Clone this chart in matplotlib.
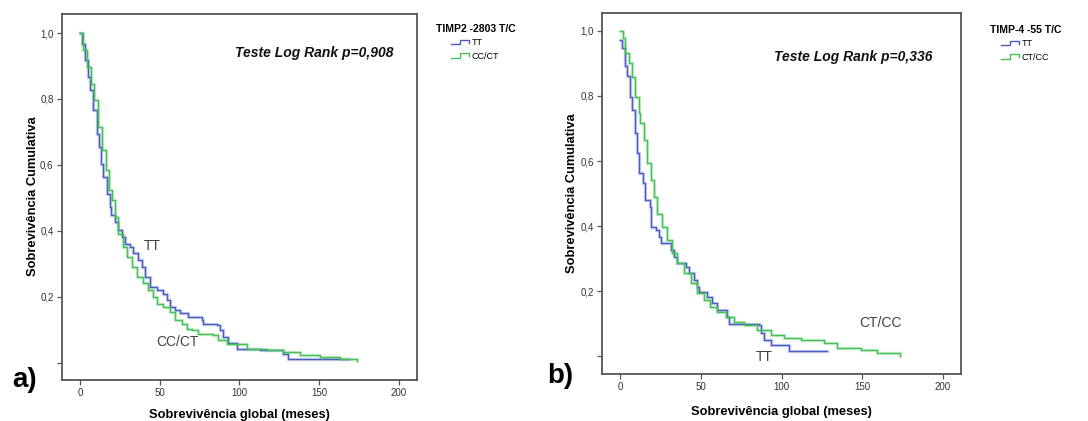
import numpy as np
import matplotlib
matplotlib.use("Agg")
import matplotlib.pyplot as plt
from matplotlib.lines import Line2D
from matplotlib.legend_handler import HandlerBase

plt.rcParams['font.family'] = ['Liberation Sans', 'DejaVu Sans']

# ---------------- data ----------------
# Panel a: TIMP2 -2803 T/C
a_tt_t = [0, 1.0, 3.1, 4.8, 6.3, 8.4, 10.5, 11.9, 13.2, 14.6, 16.7, 18.8, 19.4, 21.9, 24.0,
          26.1, 28.2, 31.3, 33.4, 36.6, 38.7, 40.8, 43.9, 48.1, 52.2, 54.3, 56.4, 59.6,
          62.7, 67.9, 76.3, 77.3, 85.7, 87.8, 89.9, 93.0, 98.2, 112.9, 127.5, 130.6, 168.9]
a_tt_s = [1.0, 0.968, 0.917, 0.866, 0.826, 0.766, 0.695, 0.654, 0.604, 0.563, 0.513, 0.472,
          0.447, 0.427, 0.402, 0.381, 0.361, 0.351, 0.331, 0.310, 0.290, 0.260, 0.230, 0.219,
          0.209, 0.189, 0.169, 0.159, 0.149, 0.139, 0.128, 0.118, 0.113, 0.098, 0.078, 0.058,
          0.042, 0.037, 0.027, 0.012, 0.012]
a_cc_t = [0, 2.1, 4.6, 6.7, 9.0, 11.5, 13.6, 16.3, 18.4, 19.9, 21.9, 24.0, 27.2, 29.3, 32.4,
          35.5, 39.7, 42.8, 46.0, 48.1, 52.2, 56.4, 59.6, 63.7, 66.9, 70.0, 74.2, 83.6, 86.7,
          92.0, 104.5, 117.0, 127.5, 137.9, 150.5, 163.0, 173.5]
a_cc_s = [1.0, 0.948, 0.897, 0.847, 0.796, 0.715, 0.644, 0.584, 0.523, 0.493, 0.442, 0.391,
          0.351, 0.321, 0.290, 0.260, 0.240, 0.219, 0.199, 0.179, 0.169, 0.154, 0.128, 0.118,
          0.103, 0.098, 0.088, 0.083, 0.068, 0.056, 0.042, 0.037, 0.032, 0.022, 0.017, 0.012,
          0.005]

# Panel b: TIMP-4 -55 T/C
b_tt_t = [0, 1.0, 2.7, 4.1, 5.8, 7.3, 8.7, 10.4, 11.8, 13.9, 15.5, 18.2, 19.1, 21.8, 23.8,
          24.9, 31.1, 33.2, 35.2, 40.4, 42.5, 45.6, 47.7, 48.7, 53.9, 57.0, 60.1, 66.3, 67.4,
          86.0, 87.0, 89.1, 93.3, 104.7, 128.5]
b_tt_s = [0.972, 0.948, 0.891, 0.860, 0.798, 0.757, 0.685, 0.624, 0.562, 0.532, 0.480, 0.460,
          0.398, 0.388, 0.368, 0.347, 0.327, 0.306, 0.286, 0.276, 0.255, 0.235, 0.214, 0.199,
          0.183, 0.163, 0.142, 0.122, 0.101, 0.096, 0.071, 0.050, 0.035, 0.017, 0.017]
b_cc_t = [0, 1.7, 3.1, 5.2, 7.3, 9.3, 11.4, 12.4, 14.5, 16.6, 18.7, 20.7, 22.8, 25.9, 29.0,
          32.1, 35.2, 39.4, 43.5, 47.7, 51.8, 55.9, 60.1, 65.3, 70.5, 76.7, 85.0, 93.3, 101.6,
          112.1, 126.4, 134.7, 149.2, 159.6, 173.7]
b_cc_s = [1.0, 0.977, 0.931, 0.900, 0.859, 0.798, 0.747, 0.716, 0.665, 0.593, 0.542, 0.491,
          0.439, 0.398, 0.357, 0.317, 0.286, 0.255, 0.224, 0.194, 0.173, 0.153, 0.137, 0.122,
          0.107, 0.096, 0.081, 0.066, 0.058, 0.050, 0.040, 0.025, 0.019, 0.011, 0.002]

y_ticks = [0.0, 0.2, 0.4, 0.6, 0.8, 1.0]
y_ticklabels = ['', '0,2', '0,4', '0,6', '0,8', '1,0']
x_ticks = [0, 50, 100, 150, 200]
x_ticklabels = ['0', '50', '100', '150', '200']

BLUE = '#4a5cc0'
GREEN = '#45c157'
FRAME = '#555555'
TXT = '#333333'


class StepIcon(HandlerBase):
    def create_artists(self, legend, orig_handle, xdescent, ydescent, width, height,
                       fontsize, trans):
        fx = np.array([0.0, 0.5, 0.5, 1.0, 1.0])
        fy = np.array([0.1, 0.1, 0.85, 0.85, 0.4])
        ln = Line2D(fx * width - xdescent, fy * height - ydescent,
                    color=orig_handle.get_color(), lw=1.0, transform=trans)
        return [ln]


fig = plt.figure(figsize=(10.88, 4.21), dpi=100)
W, H = 1088, 421


def setup_panel(rect, ylim, ylab_xy, xlab_xy):
    ax = fig.add_axes(rect)
    ax.set_xlim(-11.3, 211.3)
    ax.set_ylim(*ylim)
    ax.set_xticks(x_ticks)
    ax.set_xticklabels(x_ticklabels)
    ax.set_yticks(y_ticks)
    ax.set_yticklabels(y_ticklabels)
    for sp in ax.spines.values():
        sp.set_color(FRAME)
        sp.set_linewidth(1.3)
    ax.tick_params(axis='both', direction='out', length=3.6, width=0.9, color=FRAME,
                   labelsize=7, labelcolor=TXT, pad=2.5)
    ax.set_ylabel('Sobrevivência Cumulativa', fontsize=9.3, fontweight='bold', va='center')
    ax.yaxis.set_label_coords(*ylab_xy)
    ax.set_xlabel('Sobrevivência global (meses)', fontsize=9.3, fontweight='bold', va='center')
    ax.xaxis.set_label_coords(*xlab_xy)
    return ax


def km(ax, t, s, color):
    ax.step(t, s, where='post', color=color, lw=2.4, alpha=0.25, solid_joinstyle='miter')
    ax.step(t, s, where='post', color=color, lw=1.0)


# ---------------- panel a ----------------
axa = setup_panel([62 / W, 1 - 380 / H, 355 / W, 366 / H], (-0.053, 1.058),
                  (-0.082, 0.501), (0.501, -0.0956))
km(axa, a_tt_t, a_tt_s, BLUE)
km(axa, a_cc_t, a_cc_s, GREEN)
axa.text(0.935, 0.893, 'Teste Log Rank p=0,908', transform=axa.transAxes, ha='right',
         va='center', fontsize=10, fontweight='bold', fontstyle='italic', color='#111111')
axa.text(45, 0.354, 'TT', ha='center', va='center', fontsize=10, color='#404040')
axa.text(60.8, 0.0625, 'CC/CT', ha='center', va='center', fontsize=10, color='#404040')
fig.text(12 / W, 1 - 387 / H, 'a)', fontsize=20, fontweight='bold', ha='left', va='baseline')
hA = [Line2D([], [], color=BLUE), Line2D([], [], color=GREEN)]
fig.legend(hA, ['TT', 'CC/CT'], handler_map={Line2D: StepIcon()},
           title='TIMP2 -2803 T/C', title_fontproperties={'weight': 'bold', 'size': 7.5},
           fontsize=6.5, frameon=False, handlelength=2.0, handletextpad=0.3, borderpad=0,
           labelspacing=0.5, loc='upper left', bbox_to_anchor=(431 / W, 1 - 19 / H),
           bbox_transform=fig.transFigure)

# ---------------- panel b ----------------
axb = setup_panel([602.3 / W, 1 - 374 / H, 358.4 / W, 360.7 / H], (-0.054, 1.054),
                  (-0.0845, 0.502), (0.4986, -0.105))
km(axb, b_tt_t, b_tt_s, BLUE)
km(axb, b_cc_t, b_cc_s, GREEN)
axb.text(0.92, 0.879, 'Teste Log Rank p=0,336', transform=axb.transAxes, ha='right',
         va='center', fontsize=10, fontweight='bold', fontstyle='italic', color='#111111')
axb.text(161.6, 0.103, 'CT/CC', ha='center', va='center', fontsize=10, color='#404040')
axb.text(89.4, -0.002, 'TT', ha='center', va='center', fontsize=10, color='#404040')
fig.text(547 / W, 1 - 383 / H, 'b)', fontsize=20, fontweight='bold', ha='left', va='baseline')
fig.legend(hA, ['TT', 'CT/CC'], handler_map={Line2D: StepIcon()},
           title='TIMP-4 -55 T/C', title_fontproperties={'weight': 'bold', 'size': 7.5},
           fontsize=6.5, frameon=False, handlelength=2.0, handletextpad=0.3, borderpad=0,
           labelspacing=0.5, loc='upper left', bbox_to_anchor=(985 / W, 1 - 20 / H),
           bbox_transform=fig.transFigure)

fig.savefig('out.png', dpi=100, facecolor='white')
